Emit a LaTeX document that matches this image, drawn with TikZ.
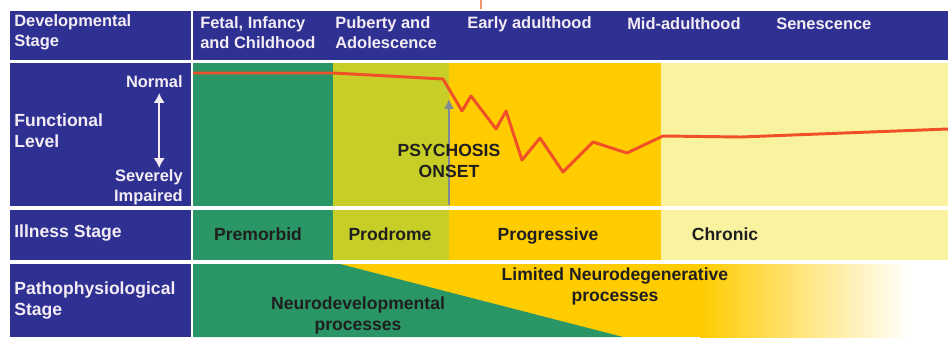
\documentclass[tikz,border=0pt]{standalone}
\usepackage{fontspec}
\setmainfont{Liberation Sans}
\usetikzlibrary{arrows.meta}

\definecolor{navy}{RGB}{46,49,146}
\definecolor{premorbid}{RGB}{42,150,102}
\definecolor{prodrome}{RGB}{200,206,40}
\definecolor{progressive}{RGB}{255,204,0}
\definecolor{chronic}{RGB}{249,243,160}
\definecolor{course}{RGB}{240,80,40}
\definecolor{lighttext}{RGB}{244,236,244}
\definecolor{onsetgray}{RGB}{128,136,150}

\begin{document}
\begin{tikzpicture}[
  every node/.style={inner sep=0pt, font=\bfseries\fontsize{12.5}{15}\selectfont},
  hdr/.style={text=lighttext, align=left, anchor=west, font=\bfseries\fontsize{11.7}{14.2}\selectfont},
  side/.style={text=lighttext, align=left, anchor=west},
  dark/.style={text=black!88, align=center}
]

\useasboundingbox (0,0) rectangle (23.7,8.425);

% header band
\fill[navy] (0.25,6.925) rectangle (4.775,8.15);
\fill[navy] (4.825,6.925) rectangle (23.7,8.15);

% left column
\fill[navy] (0.25,3.275) rectangle (4.775,6.85);
\fill[navy] (0.25,1.925) rectangle (4.775,3.175);
\fill[navy] (0.25,0) rectangle (4.775,1.825);

% functional level and illness stage columns
\fill[premorbid] (4.825,3.275) rectangle (8.325,6.85);
\fill[prodrome] (8.325,3.275) rectangle (11.225,6.85);
\fill[progressive] (11.225,3.275) rectangle (16.525,6.85);
\fill[chronic] (16.525,3.275) rectangle (23.7,6.85);

\fill[premorbid] (4.825,1.925) rectangle (8.325,3.175);
\fill[prodrome] (8.325,1.925) rectangle (11.225,3.175);
\fill[progressive] (11.225,1.925) rectangle (16.525,3.175);
\fill[chronic] (16.525,1.925) rectangle (23.7,3.175);

% pathophysiological stage
\fill[progressive] (4.825,0) rectangle (17.5,1.825);
\shade[left color=progressive, right color=white] (17.5,0) rectangle (22.75,1.825);
\fill[premorbid] (4.825,0) -- (4.825,1.825) -- (8.5,1.825) -- (15.575,0) -- cycle;

\draw[color={rgb,255:red,240;green,150;blue,110}, line width=1.2pt] (12.025,8.2) -- (12.025,8.425);

% header texts
\node[hdr] (d0) at (0.35,7.625) {Developmental\\Stage};
\node[hdr] (d1) at (5.0,7.6) {Fetal, Infancy\\and Childhood};
\node[hdr] (d2) at (8.375,7.6) {Puberty and\\Adolescence};
\node[hdr] (d3) at (11.675,7.825) {Early adulthood};
\node[hdr] (d4) at (15.675,7.825) {Mid-adulthood};
\node[hdr] (d5) at (19.4,7.825) {Senescence};

% functional level
\node[side] (f0) at (0.35,5.15) {Functional\\Level};
\node[side, anchor=east, font=\bfseries\fontsize{11.7}{14.2}\selectfont] (fn) at (4.575,6.375) {Normal};
\node[side, anchor=east, align=right, font=\bfseries\fontsize{11.7}{14.2}\selectfont] (fs) at (4.575,3.75) {Severely\\Impaired};
\coordinate (a1) at (3.98,6.1);
\coordinate (a2) at (3.98,4.225);
\draw[lighttext, line width=1.4pt, {Latex[width=8pt,length=7pt]}-{Latex[width=8pt,length=7pt]}] (a1) -- (a2);

% course of illness
\draw[course, line width=2.1pt, line join=round] (4.825,6.6) -- (8.325,6.6) -- (11.075,6.45)
  -- (11.55,5.65) -- (11.775,6.025) -- (12.4,5.2) -- (12.65,5.65) -- (13.05,4.425)
  -- (13.5,4.975) -- (14.075,4.125) -- (14.825,4.875) -- (15.675,4.6) -- (16.575,5.025)
  -- (18.525,5.0) -- (23.7,5.2);

\coordinate (o1) at (11.225,3.3);
\coordinate (o2) at (11.225,5.95);
\draw[onsetgray, line width=1pt, -{Latex[width=7pt,length=7pt]}] (o1) -- (o2);
\node[dark] (ons) at (11.225,4.41) {PSYCHOSIS\\ONSET};

% illness stage
\node[side] (i0) at (0.35,2.6) {Illness Stage};
\node[dark] (i1) at (6.45,2.57) {Premorbid};
\node[dark] (i2) at (9.75,2.57) {Prodrome};
\node[dark, anchor=base] (i3) at (13.7,2.42) {Progressive};
\node[dark] (i4) at (18.125,2.57) {Chronic};

% pathophysiological stage
\node[side] (p0) at (0.35,0.92) {Pathophysiological\\Stage};
\node[dark] (p1) at (15.375,1.27) {Limited Neurodegenerative\\processes};
\node[dark] (p2) at (8.95,0.55) {Neurodevelopmental\\processes};

\end{tikzpicture}
\end{document}
